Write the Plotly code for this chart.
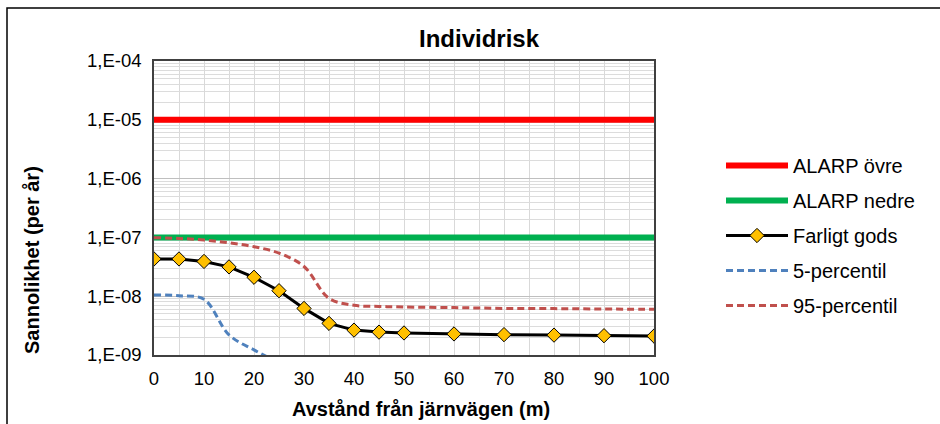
import plotly.graph_objects as go

# ---- data ----
x_dist = [0, 5, 10, 15, 20, 25, 30, 35, 40, 45, 50, 60, 70, 80, 90, 100]
farligt_gods = [4.3e-8, 4.3e-8, 3.9e-8, 3.15e-8, 2.1e-8, 1.24e-8, 6.2e-9, 3.45e-9,
                2.65e-9, 2.45e-9, 2.37e-9, 2.28e-9, 2.22e-9, 2.18e-9, 2.13e-9, 2.1e-9]
p95 = [9.9e-8, 9.6e-8, 9.0e-8, 8.1e-8, 6.95e-8, 5.4e-8, 3.2e-8, 9.2e-9,
       7.0e-9, 6.7e-9, 6.55e-9, 6.4e-9, 6.2e-9, 6.15e-9, 6.05e-9, 5.98e-9]
x_p5 = [0, 5, 10, 15, 20, 25]
p5 = [1.05e-8, 1.02e-8, 8.85e-9, 2.2e-9, 1.22e-9, 7.4e-10]
alarp_x = [0, 100]
alarp_ovre = [1e-5, 1e-5]
alarp_nedre = [1e-7, 1e-7]

y_tickvals = [1e-9, 1e-8, 1e-7, 1e-6, 1e-5, 1e-4]
y_ticktext = ["1,E-09", "1,E-08", "1,E-07", "1,E-06", "1,E-05", "1,E-04"]
x_tickvals = [0, 10, 20, 30, 40, 50, 60, 70, 80, 90, 100]

FONT = "Liberation Sans, Arial, sans-serif"

fig = go.Figure()
fig.add_trace(go.Scatter(x=alarp_x, y=alarp_ovre, mode="lines", name="ALARP övre",
                         line=dict(color="#FF0000", width=6), legendgroup="a"))
fig.add_trace(go.Scatter(x=alarp_x, y=alarp_nedre, mode="lines", name="ALARP nedre",
                         line=dict(color="#00B050", width=6), legendgroup="b"))
fig.add_trace(go.Scatter(x=x_dist, y=farligt_gods, mode="lines+markers", name="Farligt gods",
                         line=dict(color="#000000", width=3),
                         marker=dict(symbol="diamond", size=11, color="#FFC000",
                                     line=dict(color="#000000", width=1)),
                         legendgroup="c"))
fig.add_trace(go.Scatter(x=x_p5, y=p5, mode="lines", name="5-percentil",
                         line=dict(color="#4F81BD", width=3, dash="7px,4px", shape="spline"),
                         legendgroup="d"))
fig.add_trace(go.Scatter(x=x_dist, y=p95, mode="lines", name="95-percentil",
                         line=dict(color="#C0504D", width=3, dash="7px,4px", shape="spline"),
                         legendgroup="e"))

L, R, T, B = 154, 654, 61, 355
W, H = 940, 424

def px(xp):
    return (xp - L) / (R - L)

def py(yp):
    return (B - yp) / (B - T)

fig.update_layout(
    width=W, height=H,
    margin=dict(l=L, r=W - R, t=T, b=H - B),
    paper_bgcolor="white", plot_bgcolor="white",
    font=dict(family=FONT, size=18.5, color="#000000"),
    showlegend=True,
    legend=dict(x=px(721), y=py(146), xanchor="left", yanchor="top",
                font=dict(size=20), tracegroupgap=6, itemwidth=62,
                bgcolor="rgba(0,0,0,0)"),
    xaxis=dict(range=[0, 100], tickvals=x_tickvals, showgrid=True, gridcolor="#D9D9D9",
               gridwidth=1, minor=dict(dtick=5, showgrid=True, gridcolor="#D9D9D9"),
               showline=True, linecolor="#404040", linewidth=1.5, mirror=True,
               ticks="", zeroline=False, tickfont=dict(size=18.5), ticklabelstandoff=6),
    yaxis=dict(type="log", range=[-9, -4], tickvals=y_tickvals, ticktext=y_ticktext,
               showgrid=True, gridcolor="#BFBFBF", gridwidth=1,
               minor=dict(dtick="D1", showgrid=True, gridcolor="#DCDCDC"),
               showline=True, linecolor="#404040", linewidth=1.5, mirror=True,
               ticks="", zeroline=False, tickfont=dict(size=18.5), ticklabelstandoff=7),
    annotations=[
        dict(text="<b>Individrisk</b>", x=px(479), y=py(39), xref="paper", yref="paper",
             showarrow=False, font=dict(size=24), xanchor="center", yanchor="middle"),
        dict(text="<b>Sannolikhet (per år)</b>", x=px(32), y=py(260), xref="paper", yref="paper",
             showarrow=False, textangle=-90, font=dict(size=20), xanchor="center", yanchor="middle"),
        dict(text="<b>Avstånd från järnvägen (m)</b>", x=px(421), y=py(409), xref="paper", yref="paper",
             showarrow=False, font=dict(size=20), xanchor="center", yanchor="middle"),
    ],
    shapes=[
        dict(type="rect", xref="paper", yref="paper", x0=px(7), x1=px(948), y0=py(8), y1=py(430),
             line=dict(color="#000000", width=1.5), fillcolor="rgba(0,0,0,0)", layer="below"),
    ],
)

fig.write_html("out.html", config={"displayModeBar": False},
               post_script="document.body.style.margin='0px';")
